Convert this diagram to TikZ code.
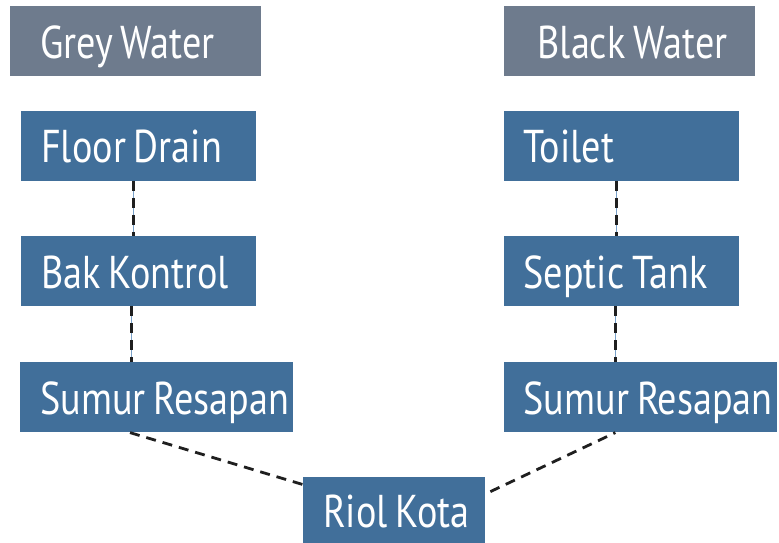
\documentclass[tikz,border=0pt]{standalone}
\usepackage{fontspec}
\newfontfamily\boxfont[FakeStretch=0.83]{PT Sans}
\usetikzlibrary{positioning}
\definecolor{boxblue}{RGB}{65,111,154}
\definecolor{boxgrey}{RGB}{110,123,141}
\definecolor{linkblue}{RGB}{120,160,200}
\tikzset{
  box/.style={fill=boxblue, text=white, minimum height=70pt, inner ysep=0pt, inner xsep=20pt,
    text width=#1, align=left, text height=34pt, text depth=0pt,
    font=\boxfont\fontsize{46}{50}\selectfont,
    execute at begin node={\spaceskip=8pt\relax\hbox\bgroup}, execute at end node={\egroup}},
  head/.style={box=#1, fill=boxgrey},
  link/.style={draw=black!88, line width=2.8pt, dash pattern=on 10pt off 7pt},
  vlink/.style={link, preaction={draw=linkblue, solid, line width=0.8pt}}
}
\begin{document}
\begin{tikzpicture}[x=1pt, y=-1pt, node distance=34pt]
  \useasboundingbox (0,0) rectangle (779,542);
  \node[head=191pt, inner xsep=30pt, anchor=north west] (grey) at (10,6) {Grey Water};
  \node[head=183pt, inner xsep=34pt, right=242pt of grey] (black) {Black Water};
  \node[box=195pt, below right=34pt and 11pt of grey.south west] (floor) {Floor Drain};
  \node[box=195pt, below right=55pt and 0pt of floor.south west] (bak) {Bak Kontrol};
  \node[box=233pt, below right=56pt and -1pt of bak.south west] (sumurL) {Sumur Resapan};
  \node[box=195pt, below right=34pt and 0pt of black.south west] (toilet) {Toilet};
  \node[box=195pt, below right=55pt and 0pt of toilet.south west] (septic) {Septic Tank};
  \node[box=233pt, below right=56pt and 0pt of septic.south west] (sumurR) {Sumur Resapan};
  \node[box=142pt, minimum height=67pt, below right=44pt and 283pt of sumurL.south west] (riol) {Riol Kota};
  \draw[vlink] ([xshift=-5pt]floor.south) -- ([xshift=-5pt]bak.north);
  \draw[vlink] ([xshift=-7pt]bak.south) -- ([xshift=-7pt]sumurL.north -| bak.south);
  \draw[vlink] ([xshift=-5pt]toilet.south) -- ([xshift=-5pt]septic.north);
  \draw[vlink] ([xshift=-6pt]septic.south) -- ([xshift=-6pt]sumurR.north -| septic.south);
  \draw[link] ([xshift=110pt]sumurL.south west) -- ([yshift=-8pt]riol.north west);
  \draw[link] ([xshift=5pt,yshift=-15pt]riol.north east) -- ([xshift=112pt]sumurR.south west);
\end{tikzpicture}
\end{document}
